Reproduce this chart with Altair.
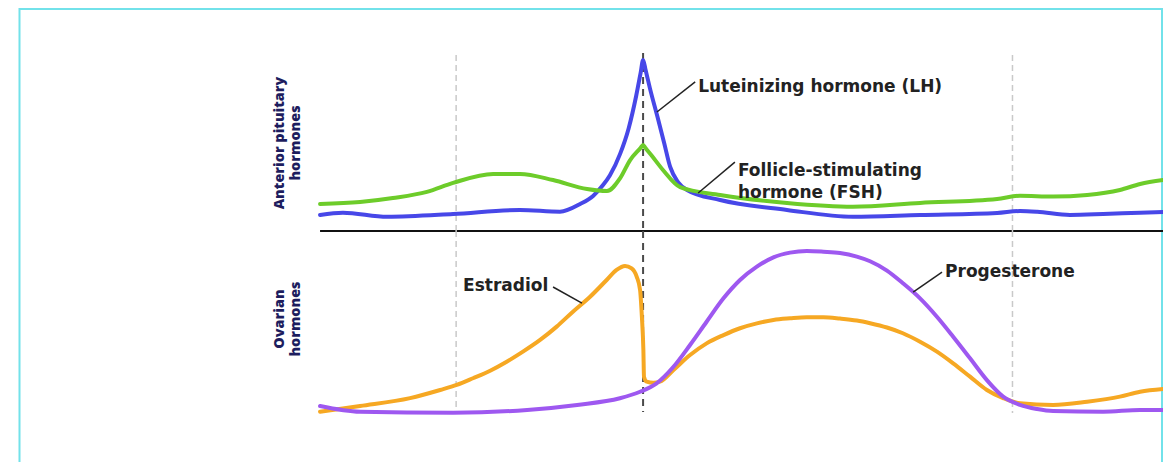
import altair as alt
import pandas as pd

# ---- data (x in cycle days, y in relative units per panel) ----
lh_day = [0, 0.76, 2.23, 4.42, 6.64, 7.97, 8.64, 9.07, 9.40, 9.63, 9.97, 10.25, 10.50, 10.65, 10.73,
          10.81, 10.96, 11.21, 11.43, 11.63, 11.89, 12.19, 13.29, 15.51, 17.70, 19.93, 22.49,
          23.25, 23.82, 24.91, 26.01, 27.24, 28]
lh_val = [8.9, 10.2, 7.9, 9.4, 11.7, 10.7, 15, 19.5, 25.5, 31, 43, 57, 75, 88, 95,
          89.7, 79.1, 63.3, 48.9, 35.6, 27.2, 22.8, 17.2, 11.7, 7.9, 8.9, 10,
          11.1, 10.7, 8.9, 9.4, 10.2, 10.6]

fsh_day = [0, 1.33, 2.42, 3.55, 4.42, 5.75, 6.64, 7.74, 8.87, 9.53, 9.97, 10.30, 10.65, 10.73, 10.81,
           11.0, 11.39, 11.96, 13.29, 15.51, 17.70, 19.93, 22.49, 23.25, 24.35, 25.48, 26.57, 27.24, 28]
fsh_val = [15, 16.1, 18.3, 21.7, 26.7, 31.7, 31.7, 28.3, 23.3, 22.2, 29.4, 39.4, 46.2, 47.8, 46.1,
           42.2, 33.9, 24.4, 20, 15.6, 13.5, 15.6, 17.8, 19.6, 19.1, 20, 22.8, 26.1, 28.3]

e2_day = [0, 1.33, 2.99, 3.99, 4.54, 5.08, 5.65, 6.20, 6.74, 7.31, 7.86, 8.40, 8.97, 9.52, 9.85,
          10.13, 10.35, 10.52, 10.63, 10.69, 10.74, 10.76, 10.85, 11.07, 11.29, 11.74, 12.29,
          12.84, 13.40, 13.95, 14.51, 15.06, 15.61, 16.17, 16.72, 17.27, 17.83, 18.27, 18.83,
          19.36, 19.93, 20.49, 21.03, 21.59, 22.15, 22.69, 23.25, 24.35, 25.48, 26.57, 27.24, 28]
e2_val = [1.8, 5, 9.4, 13.9, 16.7, 20.4, 24.6, 29.6, 35.2, 41.7, 49.1, 57.4, 65.7, 75, 80.6,
          82.8, 81.5, 76.8, 69.4, 54.6, 36.1, 21.3, 18.5, 17.9, 18.5, 25, 33.3,
          39.8, 44.4, 48.2, 50.9, 52.8, 53.7, 54.3, 54.3, 53.6, 52.5, 51.0, 48.6,
          45.4, 40.7, 35.2, 28.7, 21.3, 13.9, 9.4, 6.5, 5.6, 7.4, 10.2, 12.9, 14.4]

p4_day = [0, 1.33, 4.42, 6.88, 8.54, 9.96, 10.63, 11.18, 11.74, 12.29, 12.84, 13.40, 13.95, 14.51,
          15.06, 15.61, 16.17, 16.72, 17.27, 17.83, 18.27, 18.83, 19.36, 19.93, 20.49, 21.03, 21.59,
          22.15, 22.69, 23.25, 23.82, 24.35, 26.01, 27.24, 28]
p4_val = [5, 1.8, 1.3, 2.8, 5.6, 9.3, 12.9, 17.6, 26.8, 38.9, 51.8, 64.8, 75, 82.4,
          87.6, 90.2, 91.1, 90.7, 90.0, 88.0, 85.4, 80.2, 73.2, 64.8, 54.6, 43.5, 31.5,
          19.4, 10.2, 5.6, 3.3, 2.2, 1.8, 2.8, 2.8]

phase_days = [4.52, 23.0]      # light dashed phase boundaries
ovulation_day = 10.73          # dark dashed line

top_labels = ["Luteinizing hormone (LH)", "Follicle-stimulating\nhormone (FSH)"]
top_label_day = [12.56, 13.88]
top_label_val = [80, 33.3]
bot_labels = ["Estradiol", "Progesterone"]
bot_label_day = [4.75, 20.76]
bot_label_val = [71.7, 79.4]

top_leader = dict(x=[11.19, 12.56], x2=[12.46, 13.78], y=[66.1, 21.1], y2=[82.8, 38.3])
bot_leader = dict(x=[7.74, 19.70], x2=[8.70, 20.66], y=[71.1, 68.3], y2=[62.2, 79.4])

panel_titles = ["Anterior pituitary\nhormones", "Ovarian\nhormones"]
panel_title_day = [-1.33, -1.33]
panel_title_val = [48.9, 53.3]

# ---- layout ----
W, H = 1144, 454
xs = alt.Scale(domain=[-10, 28], nice=False)
top_s = lambda: alt.Scale(domain=[0, 100], range=[223, 43], nice=False, zero=False)
bot_s = lambda: alt.Scale(domain=[0, 100], range=[407, 227], nice=False, zero=False)

def series(days, vals, color, scale):
    df = pd.DataFrame({"day": days, "v": vals})
    return alt.Chart(df).mark_line(color=color, strokeWidth=4, interpolate="monotone",
                                   strokeCap="round", strokeJoin="round").encode(
        x=alt.X("day:Q", scale=xs, axis=None),
        y=alt.Y("v:Q", scale=scale, axis=None),
    )

def vrules(days, y1, y2, scale, color, width, dash):
    df = pd.DataFrame({"day": days, "y1": [y1] * len(days), "y2": [y2] * len(days)})
    return alt.Chart(df).mark_rule(color=color, strokeWidth=width, strokeDash=dash).encode(
        x=alt.X("day:Q", scale=xs, axis=None),
        y=alt.Y("y1:Q", scale=scale, axis=None),
        y2="y2:Q",
    )

frame_color = "#72e2ea"
frame = [
    alt.Chart(pd.DataFrame({"a": [0]})).mark_rule(color=frame_color, strokeWidth=2).encode(
        x=alt.value(0), x2=alt.value(W), y=alt.value(1)),
    alt.Chart(pd.DataFrame({"a": [0]})).mark_rule(color=frame_color, strokeWidth=2).encode(
        x=alt.value(0.5), y=alt.value(0), y2=alt.value(H)),
    alt.Chart(pd.DataFrame({"a": [0]})).mark_rule(color=frame_color, strokeWidth=2).encode(
        x=alt.value(W - 1), y=alt.value(0), y2=alt.value(H)),
]

sep = alt.Chart(pd.DataFrame({"x0": [0], "x1": [28], "v": [0]})).mark_rule(
    color="#111111", strokeWidth=2).encode(
    x=alt.X("x0:Q", scale=xs, axis=None), x2="x1:Q",
    y=alt.Y("v:Q", scale=top_s(), axis=None))

gray = "#c9c9c9"
dark = "#4a4a4a"
rules = [
    vrules(phase_days, 97.8, 0, top_s(), gray, 1.5, [6, 4]),
    vrules(phase_days, 102.2, 1.1, bot_s(), gray, 1.5, [6, 4]),
    vrules([ovulation_day], 98.9, 0, top_s(), dark, 2, [7, 5]),
    vrules([ovulation_day], 102.2, 1.7, bot_s(), dark, 2, [7, 5]),
]

def leaders(d, scale):
    df = pd.DataFrame(d)
    return alt.Chart(df).mark_rule(color="#222222", strokeWidth=1.5).encode(
        x=alt.X("x:Q", scale=xs, axis=None), x2="x2:Q",
        y=alt.Y("y:Q", scale=scale, axis=None), y2="y2:Q")

def labels(texts, days, vals, scale):
    df = pd.DataFrame({"t": texts, "day": days, "v": vals})
    return alt.Chart(df).mark_text(align="left", baseline="middle", font="DejaVu Sans",
                                   fontWeight="bold", fontSize=17, color="#222222",
                                   lineBreak="\n", lineHeight=22).encode(
        x=alt.X("day:Q", scale=xs, axis=None),
        y=alt.Y("v:Q", scale=scale, axis=None),
        text="t:N")

def ptitle(text, day, val, scale):
    df = pd.DataFrame({"t": [text], "day": [day], "v": [val]})
    return alt.Chart(df).mark_text(align="center", baseline="middle", angle=270,
                                   font="Open Sans", fontWeight=800, fontSize=14.4,
                                   color="#1d1d5e", lineBreak="\n", lineHeight=16).encode(
        x=alt.X("day:Q", scale=xs, axis=None),
        y=alt.Y("v:Q", scale=scale, axis=None),
        text="t:N")

layers = frame + [sep] + rules + [
    series(lh_day, lh_val, "#4747e8", top_s()),
    series(fsh_day, fsh_val, "#6dcc2a", top_s()),
    series(e2_day, e2_val, "#f6a823", bot_s()),
    series(p4_day, p4_val, "#9e58f0", bot_s()),
    leaders(top_leader, top_s()),
    leaders(bot_leader, bot_s()),
    labels(top_labels, top_label_day, top_label_val, top_s()),
    labels(bot_labels, bot_label_day, bot_label_val, bot_s()),
    ptitle(panel_titles[0], panel_title_day[0], panel_title_val[0], top_s()),
    ptitle(panel_titles[1], panel_title_day[1], panel_title_val[1], bot_s()),
]

chart = alt.layer(*layers).resolve_scale(y="independent").properties(
    width=W, height=H,
    autosize=alt.AutoSizeParams(type="none"),
    padding={"left": 11, "top": 0, "right": 0, "bottom": 0},
    background="white",
).configure_view(strokeWidth=0)

chart.save("out.html", embed_options={"renderer": "svg", "actions": False})
